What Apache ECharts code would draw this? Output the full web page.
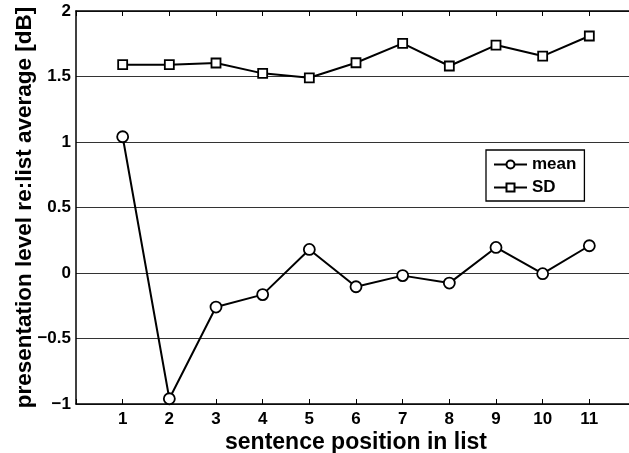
<!DOCTYPE html>
<html><head><meta charset="utf-8">
<script src="https://cdn.jsdelivr.net/npm/echarts@6/dist/echarts.min.js"></script>
<style>html,body{margin:0;padding:0;background:#fff}#c{width:629px;height:453px}</style>
</head><body><div id="c"></div>
<script>
const positions = [1,2,3,4,5,6,7,8,9,10,11];
const meanValues = [1.04,-0.96,-0.26,-0.165,0.18,-0.105,-0.02,-0.077,0.195,-0.005,0.208];
const sdValues = [1.59,1.59,1.603,1.524,1.49,1.605,1.753,1.58,1.74,1.656,1.809];
const yTicks = [-1,-0.5,0,0.5,1,1.5,2];

const font = 'Liberation Sans, Arial, Helvetica, sans-serif';
const chart = echarts.init(document.getElementById('c'));
chart.setOption({
  animation:false,
  backgroundColor:'#fff',
  grid:{left:76,top:11,width:560,height:393,containLabel:false,outerBoundsMode:'none'},
  legend:{
    left:486, top:150, orient:'vertical',
    data:['mean','SD'],
    itemWidth:33, itemHeight:10, itemGap:6,
    borderColor:'#000', borderWidth:1.3, padding:[6,8,5,7],
    backgroundColor:'#fff',
    textStyle:{fontFamily:font,fontWeight:'bold',fontSize:17,color:'#000'}
  },
  xAxis:[{
    type:'value', min:0, max:12, interval:1,
    name:'sentence position in list', nameLocation:'middle', nameGap:27, nameMoveOverlap:false,
    nameTextStyle:{fontFamily:font,fontWeight:'bold',fontSize:23,color:'#000'},
    axisLine:{show:true,onZero:false,lineStyle:{color:'#000',width:1.5}},
    axisTick:{show:true,inside:true,length:5,lineStyle:{color:'#000'}},
    axisLabel:{margin:7,fontFamily:font,fontWeight:'bold',fontSize:17,color:'#000',
      formatter:v=>positions.includes(v)?String(v):''},
    splitLine:{show:false}
  },{
    type:'value', min:0, max:12, interval:1, position:'top',
    axisLine:{show:true,onZero:false,lineStyle:{color:'#000',width:1.5}},
    axisTick:{show:true,inside:true,length:5,lineStyle:{color:'#000'}},
    axisLabel:{show:false}, splitLine:{show:false}
  }],
  yAxis:{
    type:'value', min:-1, max:2, interval:0.5,
    name:'presentation level re:list average [dB]', nameLocation:'middle', nameGap:40, nameMoveOverlap:false,
    nameTextStyle:{fontFamily:font,fontWeight:'bold',fontSize:22.5,color:'#000'},
    axisLine:{show:true,onZero:false,lineStyle:{color:'#000',width:1.5}},
    axisTick:{show:false},
    axisLabel:{margin:5,fontFamily:font,fontWeight:'bold',fontSize:17,color:'#000',
      formatter:v=>yTicks.includes(v)?(v<0?'\u2212'+Math.abs(v):String(v)):''},
    splitLine:{show:true,lineStyle:{color:'#333',width:1}}
  },
  series:[{
    name:'mean', type:'line',
    data:positions.map((p,i)=>[p,meanValues[i]]),
    symbol:'circle', symbolSize:11, showAllSymbol:true,
    lineStyle:{color:'#000',width:2},
    itemStyle:{color:'#fff',borderColor:'#000',borderWidth:1.8}
  },{
    name:'SD', type:'line',
    data:positions.map((p,i)=>[p,sdValues[i]]),
    symbol:'rect', symbolSize:9, showAllSymbol:true,
    lineStyle:{color:'#000',width:2},
    itemStyle:{color:'#fff',borderColor:'#000',borderWidth:1.8}
  }]
});
</script></body></html>
